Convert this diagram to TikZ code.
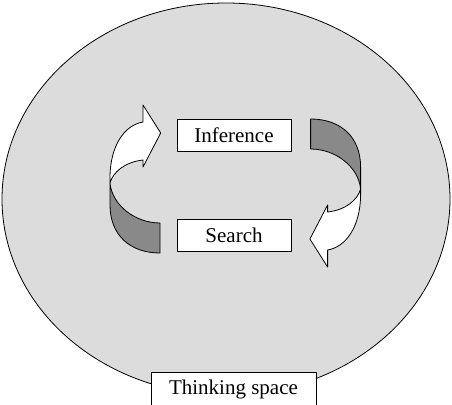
\documentclass[tikz,border=0pt]{standalone}
\usepackage{fontspec}
\setmainfont{Liberation Serif}
\usetikzlibrary{shapes.geometric}
\definecolor{spacefill}{RGB}{220,220,220}
\definecolor{backside}{RGB}{137,137,137}
\begin{document}
\begin{tikzpicture}[x=1pt,y=-1pt,
  outline/.style={draw=black,line width=0.8pt,line join=round},
  textsize/.style={font=\fontsize{21}{25}\selectfont},
  labelbox/.style={outline,fill=white,inner sep=0pt,minimum width=114pt,minimum height=32pt,textsize},
  frontface/.style={outline,fill=white},
  backface/.style={outline,fill=backside}]
\useasboundingbox (0,0) rectangle (452,404);

% the thinking space
\node[outline,fill=spacefill,ellipse,inner sep=0pt,minimum width=448pt,minimum height=392pt] (space) at (226,199) {};

% the two activities
\node[labelbox] (inference) at (234,135) {Inference};
\node[labelbox] (search) at (234,235) {Search};

% twisted ribbon arrow from Search up to Inference
\begin{scope}
  \draw[backface] (160,223) -- (160,253)
     .. controls (130,253) and (110,235) .. (110,205) -- (110,183)
     .. controls (112,205) and (135,223) .. (160,223) -- cycle;
  \draw[frontface] (110,183) -- (110,178)
     .. controls (110,145) and (125,125) .. (143,122)
     -- (143,105) -- (160.7,133) -- (143,167) -- (143,160)
     .. controls (125,162) and (113,172) .. (110,183) -- cycle;
\end{scope}

% the same ribbon turned half round, from Inference down to Search
\begin{scope}[rotate around={180:(235.3,186)}]
  \draw[backface] (160,223) -- (160,253)
     .. controls (130,253) and (110,235) .. (110,205) -- (110,183)
     .. controls (112,205) and (135,223) .. (160,223) -- cycle;
  \draw[frontface] (110,183) -- (110,178)
     .. controls (110,145) and (125,125) .. (143,122)
     -- (143,105) -- (160.7,133) -- (143,167) -- (143,160)
     .. controls (125,162) and (113,172) .. (110,183) -- cycle;
\end{scope}

% caption box at the foot of the space
\node[outline,fill=white,inner sep=0pt,minimum width=165pt,minimum height=34pt,textsize] (caption) at (233.5,389) {Thinking space};
\end{tikzpicture}
\end{document}
